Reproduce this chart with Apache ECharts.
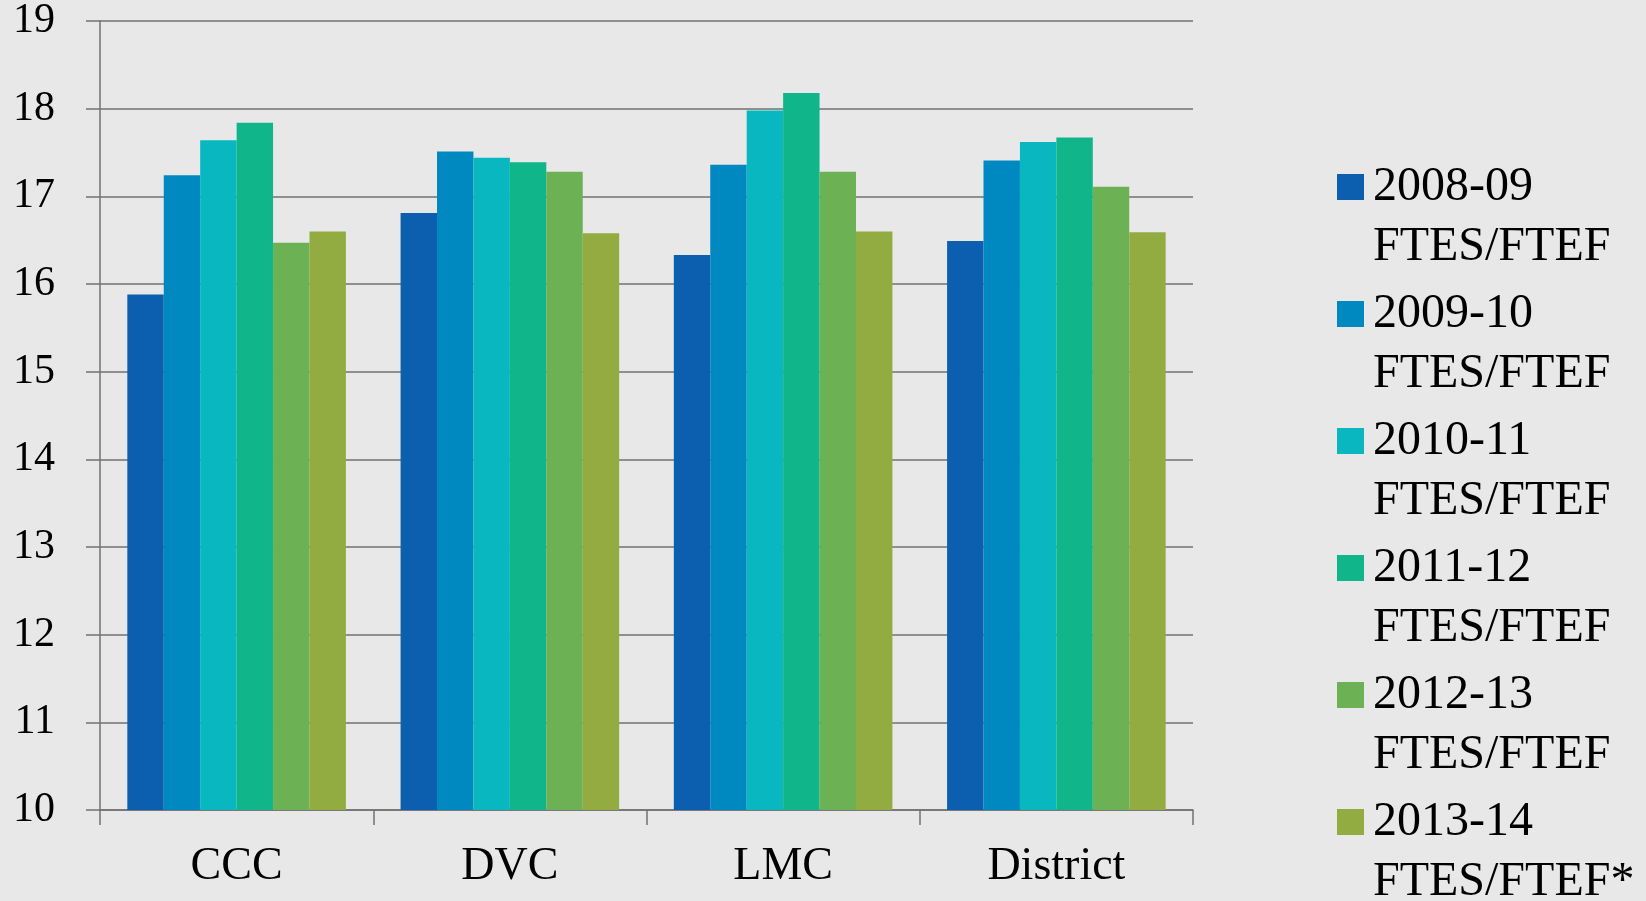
<!DOCTYPE html>
<html>
<head>
<meta charset="utf-8">
<script src="https://cdn.jsdelivr.net/npm/echarts@6/dist/echarts.min.js"></script>
<style>
	html, body { margin: 0; padding: 0; background: #e8e8e8; }
	#chart { width: 1646px; height: 901px; }
</style>
</head>
<body>
<div id="chart"></div>
<script>
var categories = ['CCC', 'DVC', 'LMC', 'District'];
var seriesNames = ['2008-09 FTES/FTEF', '2009-10 FTES/FTEF', '2010-11 FTES/FTEF',
	'2011-12 FTES/FTEF', '2012-13 FTES/FTEF', '2013-14 FTES/FTEF*'];
var v0809 = [15.88, 16.81, 16.33, 16.49];
var v0910 = [17.24, 17.51, 17.36, 17.41];
var v1011 = [17.64, 17.44, 17.98, 17.62];
var v1112 = [17.84, 17.39, 18.18, 17.67];
var v1213 = [16.47, 17.28, 17.28, 17.11];
var v1314 = [16.60, 16.58, 16.60, 16.59];
var colors = ['#0c5fae', '#0089c0', '#08b7c0', '#10b689', '#6cb255', '#92ac42'];

var allValues = [v0809, v0910, v1011, v1112, v1213, v1314];
var font = '"Liberation Serif", "DejaVu Serif", serif';

var chart = echarts.init(document.getElementById('chart'));

var series = [];
for (var i = 0; i < seriesNames.length; i++) {
	series.push({
		name: seriesNames[i],
		type: 'bar',
		barGap: '0%',
		barCategoryGap: '20%',
		itemStyle: { color: colors[i] },
		data: allValues[i]
	});
}

var option = {
	backgroundColor: '#e8e8e8',
	animation: false,
	color: colors,
	grid: {
		left: 100,
		right: 453,
		top: 17,
		bottom: 91
	},
	legend: {
		orient: 'vertical',
		left: 1337,
		top: 97,
		height: 880,
		padding: 0,
		itemWidth: 27,
		itemHeight: 26,
		itemGap: -53,
		icon: 'rect',
		// empty first line so the square sits next to the year line
		formatter: function(name) {
			return '\n' + name.replace(' ', '\n');
		},
		textStyle: {
			fontFamily: font,
			fontSize: 48,
			color: '#000',
			lineHeight: 60,
			padding: [0, 0, 0, 4]
		},
		data: seriesNames
	},
	xAxis: {
		type: 'category',
		data: categories,
		axisLine: { lineStyle: { color: '#727272', width: 1.5 } },
		axisTick: { show: true, length: 15, lineStyle: { color: '#727272', width: 1.5 } },
		axisLabel: {
			margin: 34,
			fontFamily: font,
			fontSize: 46,
			color: '#000'
		}
	},
	yAxis: {
		type: 'value',
		min: 10,
		max: 19,
		interval: 1,
		axisLine: { show: true, lineStyle: { color: '#727272', width: 1.5 } },
		axisTick: { show: true, length: 14, lineStyle: { color: '#727272', width: 1.5 } },
		splitLine: { show: true, lineStyle: { color: '#727272', width: 1.5 } },
		axisLabel: {
			margin: 45,
			fontFamily: font,
			fontSize: 42,
			color: '#000'
		}
	},
	series: series
};

chart.setOption(option);
</script>
</body>
</html>
